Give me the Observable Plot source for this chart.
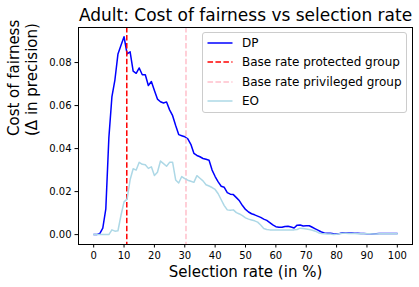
<!DOCTYPE html>
<html>
<head>
<meta charset="utf-8">
<script src="https://cdn.jsdelivr.net/npm/d3@7"></script>
<script src="https://cdn.jsdelivr.net/npm/@observablehq/plot@0.6"></script>
<style>
  body { margin: 0; background: white; }
  #wrap { position: relative; width: 419px; height: 287px; font-family: "DejaVu Sans", sans-serif; }
  #legend { position: absolute; left: 202px; top: 32px; width: 203px; height: 79px;
    border: 1px solid rgba(204,204,204,1); border-radius: 3px; background: rgba(255,255,255,0.8); }
  .row { position: absolute; left: 0; height: 16px; font-size: 12px; line-height: 16px; color: black; white-space: nowrap; }
  .row svg { position: absolute; left: 4px; top: 0; }
  .row span { position: absolute; left: 39px; top: 0; }
</style>
</head>
<body>
<div id="wrap"></div>
<script>
const title = "Adult: Cost of fairness vs selection rate";
const xLabel = "Selection rate (in %)";
const yLabel = "Cost of fairness\n(Δ in precision)";
const xTicks = [0, 10, 20, 30, 40, 50, 60, 70, 80, 90, 100];
const yTicks = [0, 0.02, 0.04, 0.06, 0.08];

const selectionRate = [0,1,2,3,4,5,6,7,8,9,10,11,12,13,14,15,16,17,18,19,20,21,22,23,24,25,26,27,28,29,30,31,32,33,34,35,36,37,38,39,40,41,42,43,44,45,46,47,48,49,50,51,52,53,54,55,56,57,58,59,60,61,62,63,64,65,66,67,68,69,70,71,72,73,74,75,76,77,78,79,80,81,82,83,84,85,86,87,88,89,90,91,92,93,94,95,96,97,98,99,100];

const dpCost = [0,0,0.0005,0.003,0.012,0.045,0.064,0.072,0.084,0.088,
  0.092,0.084,0.085,0.076,0.075,0.0775,0.0743,0.0743,0.0693,0.0712,
  0.067,0.063,0.0618,0.0612,0.0617,0.058,0.0553,0.0507,0.0465,0.046,
  0.0455,0.0445,0.042,0.0378,0.0368,0.0362,0.0354,0.035,0.0346,0.03,
  0.027,0.0245,0.0225,0.022,0.0195,0.0188,0.0186,0.0172,0.0157,0.0135,
  0.0117,0.0105,0.0097,0.0092,0.0086,0.008,0.0072,0.0066,0.0056,0.0045,
  0.0037,0.0034,0.0034,0.0038,0.0039,0.0035,0.0031,0.0044,0.0045,0.004,
  0.0041,0.0041,0.0034,0.0027,0.002,0.0012,0.0008,0.0006,0.0006,0.0004,
  0.0003,0.0005,0.0009,0.0008,0.0007,0.0007,0.0006,0.0006,0.0005,0.0005,
  0.0004,0.0004,0.0003,0.0004,0.0005,0.0005,0.0005,0.0005,0.0005,0.0005,0.0005];

const eoCost = [0,0,0,0,0,0,0.0022,0.0016,0.0018,0.009,
  0.0152,0.0165,0.0255,0.0306,0.03,0.0336,0.0327,0.0325,0.0308,0.0315,
  0.0275,0.029,0.0342,0.033,0.0318,0.0336,0.0336,0.0254,0.024,0.027,
  0.026,0.0253,0.0248,0.0243,0.0274,0.0262,0.025,0.0232,0.0226,0.0219,
  0.021,0.019,0.0162,0.0135,0.0115,0.0113,0.0115,0.0102,0.0096,0.0088,
  0.0078,0.0072,0.0068,0.0064,0.0058,0.0045,0.0028,0.0024,0.0022,0.0022,
  0.0022,0.0022,0.0022,0.0022,0.0022,0.0022,0.0022,0.0024,0.003,0.0028,
  0.0026,0.0024,0.002,0.0016,0.0009,0.0005,0.0004,0.0003,0.0003,0.0001,
  0.0002,0.0004,0.0006,0.0006,0.0005,0.0005,0.0005,0.0004,0.0004,0.0004,
  0.0004,0.0004,0.0003,0.0003,0.0004,0.0004,0.0004,0.0004,0.0004,0.0004,0.0004];

const baseRateProtected = [10.9];
const baseRatePrivileged = [30.4];

const seriesNames = ["DP", "Base rate protected group", "Base rate privileged group", "EO"];
const seriesColors = ["blue", "red", "pink", "lightblue"];
const seriesDash = [null, "5.55,2.4", "5.55,2.4", null];

const dp = selectionRate.map((x, i) => ({x, y: dpCost[i]}));
const eo = selectionRate.map((x, i) => ({x, y: eoCost[i]}));

const font = "DejaVu Sans";
const chart = Plot.plot({
  width: 419, height: 287,
  marginLeft: 78, marginRight: 7, marginTop: 27, marginBottom: 43,
  style: {fontFamily: font, color: "black", background: "white", overflow: "visible"},
  x: {domain: [-5, 105]},
  y: {domain: [-0.0046, 0.0963]},
  marks: [
    Plot.axisX({ticks: xTicks, tickSize: 3.5, tickPadding: 3.5, fontSize: 10, label: null, tickFormat: d => String(d), stroke: "black"}),
    Plot.axisY({ticks: yTicks, tickSize: 3.5, tickPadding: 3.5, fontSize: 10, label: null, tickFormat: d3.format(".2f"), stroke: "black"}),
    Plot.line(dp, {x: "x", y: "y", stroke: seriesColors[0], strokeWidth: 1.5}),
    Plot.ruleX(baseRateProtected, {stroke: seriesColors[1], strokeWidth: 1.5, strokeDasharray: seriesDash[1]}),
    Plot.ruleX(baseRatePrivileged, {stroke: seriesColors[2], strokeWidth: 1.5, strokeDasharray: seriesDash[2]}),
    Plot.line(eo, {x: "x", y: "y", stroke: seriesColors[3], strokeWidth: 1.5}),
    Plot.frame({stroke: "black", strokeWidth: 1}),
    Plot.text([title], {frameAnchor: "top", dy: -18.5, fontSize: 17, fill: "black"}),
    Plot.text([xLabel], {frameAnchor: "bottom", dy: 32, fontSize: 15, fill: "black"}),
    Plot.text([yLabel], {frameAnchor: "left", dx: -56, rotate: -90, fontSize: 15, lineHeight: 1.17, fill: "black"})
  ]
});
const wrap = document.getElementById("wrap");
wrap.appendChild(chart);

const legend = document.createElement("div");
legend.id = "legend";
const rowTops = [2, 21.4, 40.7, 60];
seriesNames.forEach((name, i) => {
  const row = document.createElement("div");
  row.className = "row";
  row.style.top = rowTops[i] + "px";
  const dash = seriesDash[i] ? ` stroke-dasharray="${seriesDash[i]}"` : "";
  row.innerHTML = `<svg width="26" height="16"><line x1="0.5" x2="25.5" y1="8" y2="8" stroke="${seriesColors[i]}" stroke-width="1.5"${dash}/></svg><span>${name}</span>`;
  legend.appendChild(row);
});
wrap.appendChild(legend);
</script>
</body>
</html>
